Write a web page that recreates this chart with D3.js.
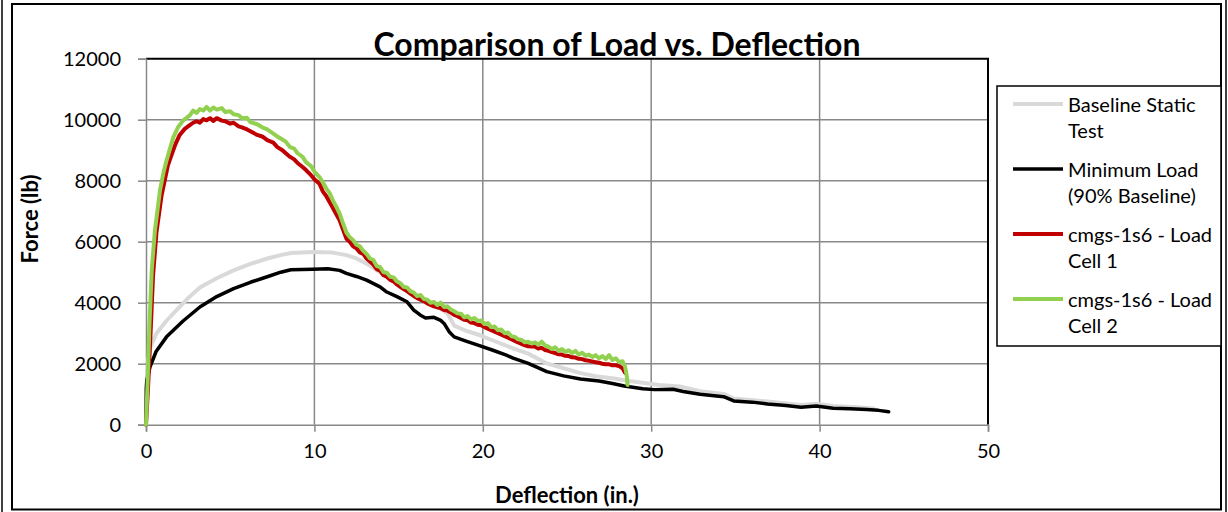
<!DOCTYPE html>
<html>
<head>
<meta charset="utf-8">
<script src="https://cdn.jsdelivr.net/npm/d3@7"></script>
<style>
  html, body { margin: 0; padding: 0; background: #fff; }
  svg { display: block; }
  text { font-family: Lato, "Open Sans", sans-serif; fill: #000; }
</style>
</head>
<body>
<svg id="chart" width="1228" height="512"></svg>
<script>
// ---------------- DATA ----------------
const chartTitle = "Comparison of Load vs. Deflection";
const xAxisTitle = "Deflection (in.)";
const yAxisTitle = "Force (lb)";
const xTickValues = [0, 10, 20, 30, 40, 50];
const yTickValues = [0, 2000, 4000, 6000, 8000, 10000, 12000];
const seriesNames = [["Baseline Static", "Test"], ["Minimum Load", "(90% Baseline)"], ["cmgs-1s6 - Load", "Cell 1"], ["cmgs-1s6 - Load", "Cell 2"]];
const seriesColors = ["#d9d9d9", "#000000", "#c00000", "#92d050"];

// [deflection (in.), force (lb)]
const baselineData = [[0,0],[0.05,1500],[0.15,2200],[0.3,2600],[0.63,3000],[1.2,3400],[1.8,3750],[2.5,4150],[3.2,4500],[4.2,4800],[5.2,5060],[6.2,5270],[7.2,5450],[8.0,5560],[8.6,5630],[9.9,5660],[11.0,5650],[11.9,5560],[12.5,5450],[13.1,5280],[13.9,5000],[14.6,4750],[15.3,4500],[16.0,4250],[16.7,4050],[17.2,3900],[17.9,3650],[18.3,3250],[19.0,3080],[19.8,2940],[20.8,2720],[21.8,2500],[22.7,2330],[23.8,2010],[24.8,1850],[25.8,1690],[26.7,1590],[27.7,1520],[28.7,1430],[29.7,1360],[30.5,1300],[31.7,1250],[32.9,1100],[34.3,1010],[34.9,860],[36.9,760],[38.9,650],[39.8,690],[40.8,610],[42.0,580],[43.2,530]];

const minLoadData = [[0,0],[0.02,1200],[0.05,1460],[0.24,1900],[0.6,2400],[1.22,2880],[2.2,3400],[3.2,3860],[4.2,4200],[5.2,4460],[6.2,4670],[7.2,4850],[8.0,5000],[8.6,5080],[9.9,5100],[10.8,5110],[11.5,5060],[11.9,4960],[12.5,4860],[13.1,4740],[13.9,4520],[14.3,4350],[14.9,4200],[15.5,4030],[15.9,3760],[16.3,3590],[16.6,3500],[17.1,3520],[17.5,3420],[17.7,3320],[18.0,3050],[18.3,2880],[19.0,2740],[19.8,2590],[20.6,2440],[21.4,2280],[21.8,2180],[22.7,2010],[23.8,1740],[24.8,1600],[25.8,1500],[26.9,1430],[27.7,1350],[28.4,1270],[29.5,1180],[30.2,1150],[31.3,1160],[31.9,1090],[32.9,1000],[34.3,920],[34.9,780],[36.0,740],[36.9,680],[38.0,630],[38.9,570],[39.8,615],[40.8,540],[41.8,520],[42.8,500],[43.5,470],[44.1,425]];

const cell1Data = [[0,0],[0.12,1200],[0.27,3000],[0.42,4900],[0.62,6300],[0.92,7500],[1.3,8500],[1.55,8900],[1.75,9200],[2.0,9500],[2.3,9700],[2.6,9820],[2.8,9900],[3.0,9950],[3.2,9900],[3.4,10020],[3.6,9980],[3.8,10050],[4.0,9960],[4.2,10050],[4.5,9970],[4.7,9950],[5.0,9870],[5.2,9900],[5.5,9780],[5.7,9750],[6.0,9680],[6.2,9620],[6.6,9500],[6.9,9450],[7.2,9330],[7.56,9250],[7.8,9100],[8.1,9000],[8.3,8900],[8.56,8780],[8.8,8700],[9.0,8580],[9.3,8450],[9.5,8350],[9.8,8180],[10.0,8050],[10.3,7900],[10.5,7650],[10.7,7500],[10.9,7300],[11.1,7100],[11.3,6900],[11.5,6700],[11.7,6400],[11.9,6100],[12.1,6000],[12.3,5850],[12.5,5780],[12.7,5650],[12.9,5600],[13.1,5450],[13.3,5350],[13.5,5250],[13.7,5100],[13.9,5050],[14.1,4900],[14.3,4850],[14.5,4750],[14.7,4700],[14.9,4600],[15.1,4520],[15.3,4450],[15.5,4380],[15.7,4300],[15.9,4220],[16.1,4150],[16.3,4100],[16.5,4050],[16.7,3980],[16.9,3930],[17.1,3880],[17.3,3850],[17.5,3820],[17.7,3760],[17.9,3740],[18.1,3680],[18.3,3600],[18.5,3560],[18.7,3500],[18.9,3440],[19.1,3420],[19.3,3350],[19.5,3330],[19.7,3280],[19.9,3260],[20.1,3200],[20.3,3150],[20.5,3100],[20.7,3050],[20.9,3000],[21.1,2950],[21.3,2900],[21.5,2850],[21.7,2800],[21.9,2750],[22.1,2700],[22.3,2650],[22.5,2600],[22.7,2570],[22.9,2560],[23.1,2560],[23.3,2500],[23.5,2520],[23.7,2450],[23.9,2420],[24.1,2380],[24.3,2350],[24.5,2310],[24.7,2300],[24.9,2260],[25.1,2250],[25.3,2210],[25.5,2200],[25.7,2160],[25.9,2150],[26.1,2110],[26.3,2100],[26.5,2070],[26.7,2050],[26.9,2030],[27.1,2000],[27.3,1980],[27.5,1980],[27.7,1950],[27.9,1950],[28.1,1920],[28.3,1850],[28.45,1700]];

const cell2Data = [[0,0],[0.1,1500],[0.2,3200],[0.34,5060],[0.53,6370],[0.83,7680],[1.05,8300],[1.22,8660],[1.45,9100],[1.62,9420],[1.9,9750],[2.2,9970],[2.6,10140],[2.8,10300],[3.0,10220],[3.2,10350],[3.4,10300],[3.6,10420],[3.8,10300],[4.0,10400],[4.2,10330],[4.5,10380],[4.7,10250],[5.0,10280],[5.2,10180],[5.5,10150],[5.7,10050],[6.0,10060],[6.2,9920],[6.6,9850],[6.9,9750],[7.2,9680],[7.56,9540],[7.8,9450],[8.1,9350],[8.3,9280],[8.56,9100],[8.8,9050],[9.0,8900],[9.3,8780],[9.5,8610],[9.8,8480],[10.0,8300],[10.3,8120],[10.5,7950],[10.7,7750],[10.9,7600],[11.1,7350],[11.3,7150],[11.5,6920],[11.7,6600],[11.9,6300],[12.1,6150],[12.3,6050],[12.5,5900],[12.7,5850],[12.9,5700],[13.1,5600],[13.3,5450],[13.5,5400],[13.7,5200],[13.9,5170],[14.1,5000],[14.3,4980],[14.5,4850],[14.7,4830],[14.9,4700],[15.1,4640],[15.3,4520],[15.5,4500],[15.7,4380],[15.9,4330],[16.1,4220],[16.3,4250],[16.5,4120],[16.7,4100],[16.9,4000],[17.1,4020],[17.3,3920],[17.5,4000],[17.7,3860],[17.9,3880],[18.1,3780],[18.3,3720],[18.5,3650],[18.7,3640],[18.9,3520],[19.1,3560],[19.3,3450],[19.5,3500],[19.7,3400],[19.9,3420],[20.1,3300],[20.3,3330],[20.5,3200],[20.7,3220],[20.9,3100],[21.1,3120],[21.3,3000],[21.5,3020],[21.7,2900],[21.9,2880],[22.1,2800],[22.3,2780],[22.5,2700],[22.7,2720],[22.9,2660],[23.1,2700],[23.3,2620],[23.5,2720],[23.7,2600],[23.9,2560],[24.1,2480],[24.3,2540],[24.5,2420],[24.7,2480],[24.9,2380],[25.1,2440],[25.3,2350],[25.5,2420],[25.7,2300],[25.9,2360],[26.1,2260],[26.3,2300],[26.5,2220],[26.7,2280],[26.9,2180],[27.1,2250],[27.3,2150],[27.5,2280],[27.7,2120],[27.9,2180],[28.1,2050],[28.3,2080],[28.45,1900],[28.55,1600],[28.6,1300]];

const allSeries = [baselineData, minLoadData, cell1Data, cell2Data];
const seriesWidths = [4, 3.5, 4, 4];

// ---------------- LAYOUT ----------------
const svg = d3.select("#chart");
const plot = { left: 146, right: 988, top: 58.7, bottom: 424.7 };

const x = d3.scaleLinear().domain([0, 50]).range([plot.left, plot.right]);
const y = d3.scaleLinear().domain([0, 12000]).range([plot.bottom, plot.top]);

svg.append("rect").attr("width", 1228).attr("height", 512).attr("fill", "#fff");

// outer frame
svg.append("line").attr("x1", 2).attr("x2", 2).attr("y1", 0).attr("y2", 512).attr("stroke", "#000").attr("stroke-width", 1.5);
svg.append("line").attr("x1", 1226).attr("x2", 1226).attr("y1", 0).attr("y2", 512).attr("stroke", "#000").attr("stroke-width", 1.5);
svg.append("rect").attr("x", 12).attr("y", 4).attr("width", 1209).attr("height", 505.5)
  .attr("fill", "none").attr("stroke", "#000").attr("stroke-width", 2);

// gridlines
const gridColor = "#888888";
svg.append("g").selectAll("line").data(yTickValues.filter(d => d > 0 && d < 12000)).join("line")
  .attr("x1", plot.left).attr("x2", plot.right)
  .attr("y1", d => y(d)).attr("y2", d => y(d))
  .attr("stroke", gridColor).attr("stroke-width", 1.5);
svg.append("g").selectAll("line").data(xTickValues.filter(d => d > 0 && d < 50)).join("line")
  .attr("y1", plot.top).attr("y2", plot.bottom)
  .attr("x1", d => x(d)).attr("x2", d => x(d))
  .attr("stroke", gridColor).attr("stroke-width", 1.5);

// plot border (top / right black)
svg.append("path")
  .attr("d", `M${plot.left},${plot.top}H${plot.right}V${plot.bottom}`)
  .attr("fill", "none").attr("stroke", "#000").attr("stroke-width", 2);

// axes
const xAxis = d3.axisBottom(x).tickValues(xTickValues).tickSize(7).tickPadding(12).tickFormat(d3.format("d"));
const yAxis = d3.axisLeft(y).tickValues(yTickValues).tickSize(8).tickPadding(17).tickFormat(d3.format("d"));

const gx = svg.append("g").attr("transform", `translate(0,${plot.bottom})`).call(xAxis);
const gy = svg.append("g").attr("transform", `translate(${plot.left},0)`).call(yAxis);
[gx, gy].forEach(g => {
  g.select(".domain").attr("stroke", gridColor).attr("stroke-width", 1.5);
  g.selectAll(".tick line").attr("stroke", gridColor).attr("stroke-width", 1.5);
  g.selectAll(".tick text").style("font-family", "Lato, sans-serif").style("font-size", "20px").attr("fill", "#000");
});
gx.selectAll(".tick text").attr("dy", "0.71em");
gy.selectAll(".tick text").attr("dy", "0.36em");

// series
const line = d3.line().x(d => x(d[0])).y(d => y(d[1]));
allSeries.forEach((data, i) => {
  svg.append("path").datum(data)
    .attr("d", line)
    .attr("fill", "none")
    .attr("stroke", seriesColors[i])
    .attr("stroke-width", seriesWidths[i])
    .attr("stroke-linejoin", "round")
    .attr("stroke-linecap", "round");
});

// title
svg.append("text").attr("x", 617).attr("y", 56).attr("text-anchor", "middle")
  .style("font-size", "32px").style("font-weight", "bold").text(chartTitle);

// axis titles
svg.append("text").attr("x", 567).attr("y", 503).attr("text-anchor", "middle")
  .style("font-size", "22px").style("font-weight", "bold").text(xAxisTitle);
svg.append("text").attr("transform", "translate(38,219) rotate(-90)").attr("text-anchor", "middle")
  .style("font-size", "22px").style("font-weight", "bold").text(yAxisTitle);

// legend
const legend = svg.append("g");
legend.append("rect").attr("x", 997).attr("y", 86).attr("width", 224).attr("height", 260)
  .attr("fill", "#fff").attr("stroke", "#000").attr("stroke-width", 1.5);
const legendY = [104, 169, 234, 299];
seriesNames.forEach((names, i) => {
  legend.append("line").attr("x1", 1013).attr("x2", 1063)
    .attr("y1", legendY[i]).attr("y2", legendY[i])
    .attr("stroke", seriesColors[i]).attr("stroke-width", seriesWidths[i]);
  names.forEach((t, j) => {
    legend.append("text").attr("x", 1068).attr("y", legendY[i] + 8 + j * 26)
      .style("font-size", "20px").text(t);
  });
});
</script>
</body>
</html>
